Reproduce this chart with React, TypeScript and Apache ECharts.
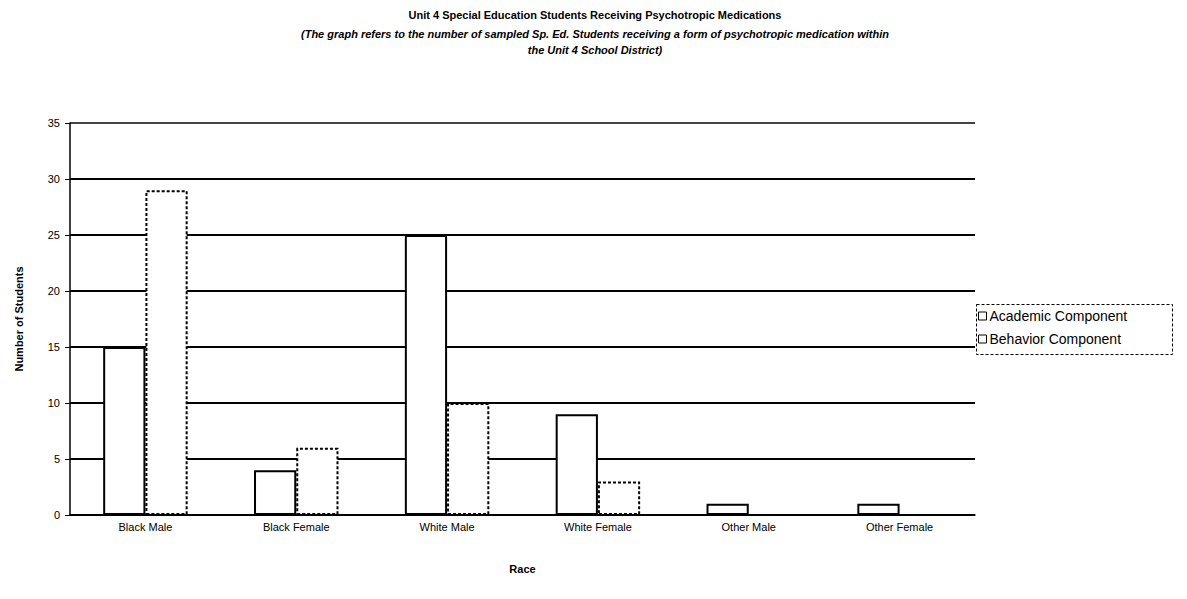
import React, { useEffect, useRef } from "react";
import * as echarts from "echarts";

const categories = ["Black Male", "Black Female", "White Male", "White Female", "Other Male", "Other Female"];
const academic = [15, 4, 25, 9, 1, 1];
const behavior = [29, 6, 10, 3, 0, 0];
const seriesNames = ["Academic Component", "Behavior Component"];
const yTicks = [0, 5, 10, 15, 20, 25, 30, 35];

export default function App() {
  const ref = useRef<HTMLDivElement>(null);
  useEffect(() => {
    if (!ref.current) return;
    const chart = echarts.init(ref.current, undefined, { renderer: "svg" });
    const font = "Arial, 'Liberation Sans', sans-serif";
    chart.setOption({
      animation: false,
      backgroundColor: "#ffffff",
      textStyle: { fontFamily: font, color: "#000" },
      title: {
        text: "Unit 4 Special Education Students Receiving Psychotropic Medications",
        subtext:
          "(The graph refers to the number of sampled Sp. Ed. Students receiving a form of psychotropic medication within\nthe Unit 4 School District)",
        left: 590,
        textAlign: "center",
        top: 4,
        itemGap: 6,
        textStyle: { fontFamily: font, fontSize: 11, fontWeight: "bold", color: "#000" },
        subtextStyle: {
          fontFamily: font,
          fontSize: 11,
          fontWeight: "bold",
          fontStyle: "italic",
          color: "#000",
          lineHeight: 16,
          align: "center",
        },
      },
      graphic: [
        {
          type: "rect",
          left: 974,
          top: 302,
          shape: { width: 196, height: 50 },
          style: { fill: "none", stroke: "#000", lineWidth: 1, lineDash: [3, 2] },
          z: 10,
        },
      ],
      legend: {
        orient: "vertical",
        left: 978,
        top: 309,
        data: seriesNames,
        icon: "rect",
        itemWidth: 8,
        itemHeight: 8,
        itemGap: 9,
        padding: 0,
        borderWidth: 0,
        textStyle: { fontFamily: font, fontSize: 14, color: "#000", padding: [0, 0, 0, -2] },
        itemStyle: { color: "#fff", borderColor: "#000", borderWidth: 1 },
      },
      grid: { left: 70, right: 212, top: 123, bottom: 84 },
      xAxis: {
        type: "category",
        data: categories,
        name: "Race",
        nameLocation: "middle",
        nameGap: 48,
        nameTextStyle: { fontFamily: font, fontSize: 11, fontWeight: "bold", color: "#000" },
        axisLine: { lineStyle: { color: "#000", width: 1.5 } },
        axisTick: { show: false },
        axisLabel: { fontFamily: font, fontSize: 11, color: "#000", margin: 6 },
      },
      yAxis: {
        type: "value",
        min: 0,
        max: 35,
        interval: 5,
        name: "Number of Students",
        nameLocation: "middle",
        nameGap: 46,
        nameTextStyle: { fontFamily: font, fontSize: 11, fontWeight: "bold", color: "#000" },
        axisLine: { show: true, lineStyle: { color: "#000", width: 1.5 } },
        axisTick: { show: true, length: 5, lineStyle: { color: "#000" } },
        axisLabel: {
          fontFamily: font,
          fontSize: 11,
          color: "#000",
          margin: 10,
          formatter: (v: number) => (yTicks.includes(v) ? String(v) : ""),
        },
        splitLine: {
          show: true,
          lineStyle: { color: ["#000", "#000", "#000", "#000", "#000", "#000", "#000", "#444"], width: 2 },
        },
      },
      series: [
        {
          name: seriesNames[0],
          type: "bar",
          data: academic,
          barGap: "0%",
          barCategoryGap: "44%",
          itemStyle: { color: "#fff", borderColor: "#000", borderWidth: 2 },
        },
        {
          name: seriesNames[1],
          type: "bar",
          data: behavior,
          itemStyle: { color: "#fff", borderColor: "#000", borderWidth: 2, borderType: [3, 2] },
        },
      ],
    });
    return () => chart.dispose();
  }, []);
  return (
    <div
      ref={ref}
      style={{ position: "fixed", left: 0, top: 0, width: 1187, height: 599, background: "#fff" }}
    />
  );
}
